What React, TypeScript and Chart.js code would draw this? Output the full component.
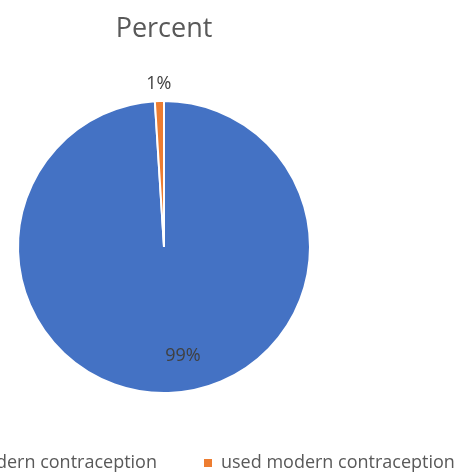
import React, { useEffect, useRef } from "react";
import { Chart, registerables } from "chart.js";

Chart.register(...registerables);

const chartTitle = "Percent";
const categories = ["not used modern contraception", "used modern contraception"];
const percentValues = [99, 1];
const sliceColors = ["#4472C4", "#ED7D31"];

const FONT = "'Open Sans', 'DejaVu Sans', sans-serif";
const CANVAS_W = 700;
const CANVAS_H = 482;

const pieLabels = {
  id: "pieLabels",
  afterDatasetsDraw(chart: any) {
    const ctx = chart.ctx;
    const meta = chart.getDatasetMeta(0);
    const data = chart.data.datasets[0].data as number[];
    const total = data.reduce((a, b) => a + b, 0);
    ctx.save();
    ctx.font = `18px ${FONT}`;
    ctx.fillStyle = "#404040";
    ctx.textAlign = "center";
    ctx.textBaseline = "middle";
    meta.data.forEach((arc: any, i: number) => {
      const p = arc.getProps(["x", "y", "startAngle", "endAngle", "outerRadius"], true);
      const frac = data[i] / total;
      let mid = (p.startAngle + p.endAngle) / 2;
      let r: number;
      if (frac > 0.1) {
        mid -= (8 * Math.PI) / 180;
        r = p.outerRadius * 0.76;
      } else {
        r = p.outerRadius + 17;
      }
      ctx.fillText(`${data[i]}%`, p.x + Math.cos(mid) * r, p.y + Math.sin(mid) * r);
    });
    ctx.restore();
  },
};

export default function App() {
  const ref = useRef<HTMLCanvasElement>(null);
  useEffect(() => {
    document.body.style.overflow = "hidden";
    Chart.defaults.font.family = FONT;
    const chart = new Chart(ref.current as HTMLCanvasElement, {
      type: "pie",
      data: {
        labels: categories,
        datasets: [
          {
            data: percentValues,
            backgroundColor: sliceColors,
            borderColor: "#ffffff",
            borderWidth: 2,
          },
        ],
      },
      plugins: [pieLabels],
      options: {
        responsive: false,
        animation: false,
        radius: 146,
        layout: { padding: 0 },
        plugins: {
          title: {
            display: true,
            text: chartTitle,
            color: "#595959",
            font: { size: 27, weight: "normal", family: FONT },
            padding: { top: 13, bottom: 41.6 },
          },
          legend: {
            position: "bottom",
            labels: {
              boxWidth: 8,
              boxHeight: 8,
              padding: 47,
              color: "#595959",
              font: { size: 18, family: FONT },
              generateLabels: (c: any) =>
                (Chart as any).overrides.pie.plugins.legend.labels
                  .generateLabels(c)
                  .map((l: any) => ({ ...l, lineWidth: 0, strokeStyle: l.fillStyle })),
            },
          },
          tooltip: { enabled: false },
        },
      } as any,
    });
    return () => chart.destroy();
  }, []);
  return (
    <div style={{ position: "fixed", left: 164 - CANVAS_W / 2, top: 0, width: CANVAS_W, height: CANVAS_H }}>
      <canvas
        ref={ref}
        width={CANVAS_W}
        height={CANVAS_H}
        style={{ display: "block", width: CANVAS_W, height: CANVAS_H }}
      />
    </div>
  );
}
